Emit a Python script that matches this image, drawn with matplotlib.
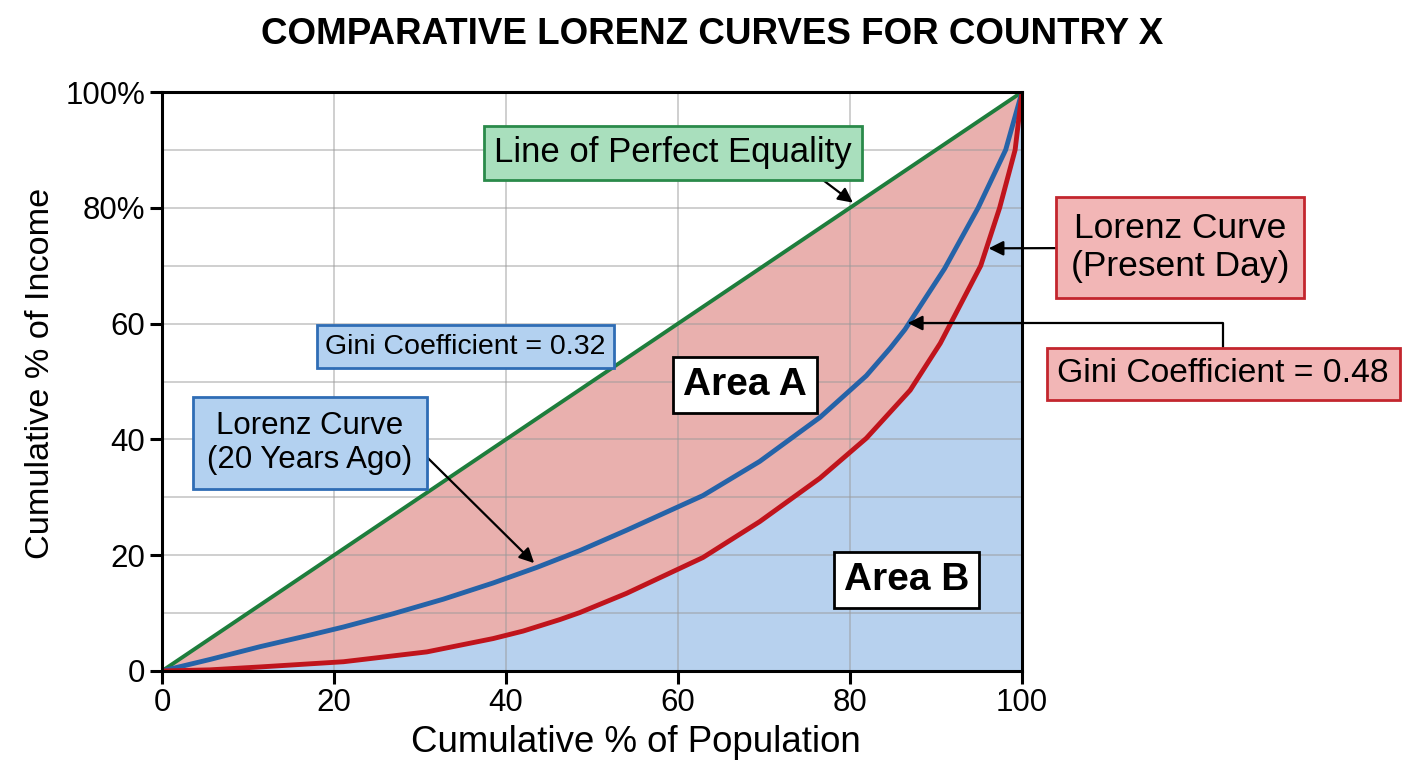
import matplotlib
matplotlib.use("Agg")
import matplotlib.pyplot as plt
import numpy as np

plt.rcParams['font.family'] = ['Liberation Sans', 'DejaVu Sans']

# ---- data ----
pop_past = [0, 5.6, 11.4, 17.2, 21.1, 26.9, 32.7, 38.5, 43.6, 48.6, 54.0, 62.9,
            69.5, 76.5, 81.9, 84.7, 86.4, 91.0, 94.9, 98.1, 100]
lorenz_past = [0, 2.0, 4.2, 6.2, 7.6, 9.9, 12.4, 15.2, 17.9, 20.8, 24.3, 30.3,
               36.2, 43.8, 51.0, 55.8, 59.0, 69.5, 80.0, 90.0, 100]
pop_present = [0, 5.6, 11.4, 21.1, 30.8, 38.5, 42.0, 46.3, 48.6, 54.0, 62.9, 69.5,
               76.5, 81.9, 87.0, 90.5, 95.2, 97.4, 99.2, 100]
lorenz_present = [0, 0.2, 0.7, 1.6, 3.3, 5.6, 6.9, 8.9, 10.1, 13.4, 19.6, 25.8,
                  33.3, 40.2, 48.5, 56.6, 70.0, 80.0, 90.0, 100]
equality = [0, 100]
gini_past = 0.32
gini_present = 0.48

x_ticks = [0, 20, 40, 60, 80, 100]
y_ticks = [0, 20, 40, 60, 80, 100]
y_tick_labels = ['0', '20', '40', '60', '80%', '100%']

title = "COMPARATIVE LORENZ CURVES FOR COUNTRY X"
xlabel = "Cumulative % of Population"
ylabel = "Cumulative % of Income"

# ---- figure ----
fig = plt.figure(figsize=(14.08, 7.68), dpi=100)
ax = fig.add_axes([162/1408, 1 - 671/768, (1022-162)/1408, (671-92)/768])

pink = '#e9b0ae'
lightblue = '#b7d1ee'
green = '#1e7d3c'
blue = '#2563a8'
red = '#c0141c'

xr = np.array(pop_present, dtype=float)
yr = np.array(lorenz_present, dtype=float)
ax.fill_between(xr, xr, yr, color=pink, zorder=1, lw=0)
ax.fill_between(xr, 0, yr, color=lightblue, zorder=1, lw=0)

ax.plot(equality, equality, color=green, lw=2.8, zorder=4, solid_capstyle='round')
ax.plot(pop_past, lorenz_past, color=blue, lw=3.5, zorder=4, solid_joinstyle='round')
ax.plot(pop_present, lorenz_present, color=red, lw=3.5, zorder=4, solid_joinstyle='round')

ax.set_xlim(0, 100)
ax.set_ylim(0, 100)
ax.set_xticks(x_ticks)
ax.set_yticks(y_ticks)
ax.set_yticklabels(y_tick_labels)
ax.set_yticks(np.arange(0, 101, 10), minor=True)
ax.tick_params(axis='both', which='major', labelsize=22.5, length=9, width=2.2, direction='out', pad=3)
ax.tick_params(axis='y', which='minor', length=0)
ax.grid(True, which='major', axis='x', color='#9a9a9a', alpha=0.6, lw=1.1, zorder=2)
ax.grid(True, which='both', axis='y', color='#9a9a9a', alpha=0.6, lw=1.1, zorder=2)
ax.set_axisbelow(False)
for g in ax.get_xgridlines() + ax.get_ygridlines():
    g.set_zorder(2)
for s in ax.spines.values():
    s.set_linewidth(2.2)
    s.set_zorder(5)

ax.set_xlabel(xlabel, fontsize=26.4, va='center')
ax.xaxis.set_label_coords((636-162)/860, (671-742)/579)
ax.set_ylabel(ylabel, fontsize=24.7, va='center')
ax.yaxis.set_label_coords((41-162)/860, (671-373)/579)
fig.text(712/1408, 1 - 35/768, title, fontsize=26.5, fontweight='bold', ha='center', va='center')

def box(fc, ec):
    return dict(boxstyle='square,pad=0.3', fc=fc, ec=ec, lw=2)

green_box = box('#a9dfbd', '#2a8a4a')
blue_box = box('#b3d1f0', '#2f6db5')
red_box = box('#f2b6b6', '#c3262e')
white_box = box('white', 'black')

arrow = dict(arrowstyle='-|>', color='black', lw=1.6, mutation_scale=22, shrinkA=0, shrinkB=2)

ax.annotate("Line of Perfect Equality", xy=(80.6, 80.6), xytext=(59.4, 89.5),
            fontsize=25, ha='center', va='center', bbox=green_box, zorder=6,
            arrowprops=dict(arrow, relpos=(0.88, 0)), annotation_clip=False)

ax.text(35.3, 56.0, f"Gini Coefficient = {gini_past:.2f}", fontsize=20.5, ha='center', va='center',
        bbox=dict(blue_box, pad=0.25), zorder=6)

ax.annotate("Lorenz Curve\n(20 Years Ago)", xy=(43.5, 18.3), xytext=(17.2, 39.4),
            fontsize=22.5, ha='center', va='center', bbox=dict(blue_box, boxstyle='square,pad=0.45'),
            zorder=6, arrowprops=dict(arrow, relpos=(1, 0.5)), annotation_clip=False)

ax.text(67.8, 49.4, "Area A", fontsize=28, fontweight='bold', ha='center', va='center',
        bbox=dict(white_box, boxstyle='square,pad=0.25'), zorder=6)
ax.text(86.6, 15.7, "Area B", fontsize=28, fontweight='bold', ha='center', va='center',
        bbox=dict(white_box, boxstyle='square,pad=0.25'), zorder=6)

ax.annotate("Lorenz Curve\n(Present Day)", xy=(95.8, 73.0), xytext=(118.4, 73.1),
            fontsize=25.5, ha='center', va='center', bbox=dict(red_box, boxstyle='square,pad=0.42'),
            zorder=6, arrowprops=dict(arrow), annotation_clip=False)

ax.annotate(f"Gini Coefficient = {gini_present:.2f}", xy=(86.4, 60.1), xytext=(123.4, 51.3),
            fontsize=24.2, ha='center', va='center', bbox=dict(red_box, boxstyle='square,pad=0.32'),
            zorder=6, arrowprops=dict(arrow, connectionstyle='angle,angleA=90,angleB=0,rad=0'),
            annotation_clip=False)

fig.savefig("out.png", dpi=100, facecolor='white')
